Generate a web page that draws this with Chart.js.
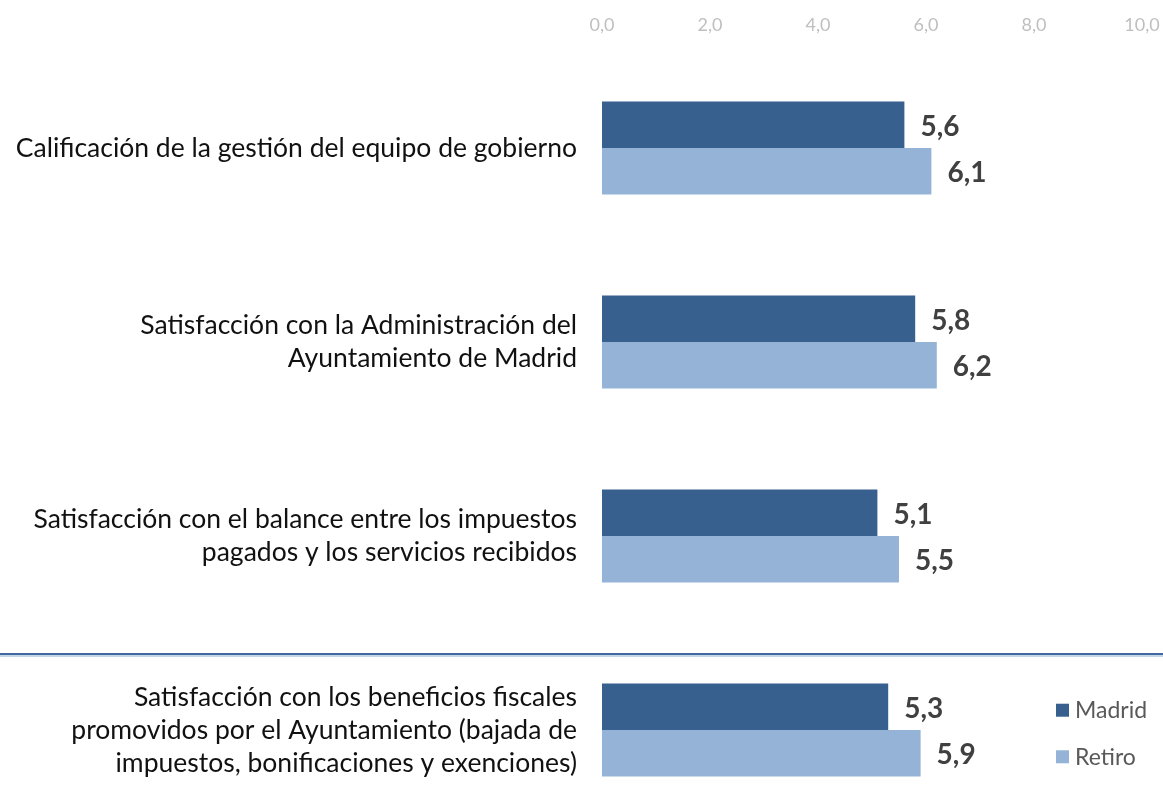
<!DOCTYPE html>
<html>
<head>
<meta charset="utf-8">
<script src="https://cdn.jsdelivr.net/npm/chart.js@4.4.0/dist/chart.umd.min.js"></script>
<style>
  html, body { margin: 0; padding: 0; background: #fff; overflow: hidden; }
  #wrap { width: 1163px; height: 830px; position: relative; }
</style>
</head>
<body>
<div id="wrap"><canvas id="grafica"></canvas></div>
<script>
// datos de la grafica
const categorias = [
    ["Calificación de la gestión del equipo de gobierno"],
    ["Satisfacción con la Administración del", "Ayuntamiento de Madrid"],
    ["Satisfacción con el balance entre los impuestos", "pagados y los servicios recibidos"],
    ["Satisfacción con los beneficios fiscales", "promovidos por el Ayuntamiento (bajada de", "impuestos, bonificaciones y exenciones)"]
];
const madrid = [5.6, 5.8, 5.1, 5.3];
const retiro = [6.1, 6.2, 5.5, 5.9];
const series = ["Madrid", "Retiro"];
const ticksX = [0, 2, 4, 6, 8, 10];

const colores = ["#37608f", "#95b3d7"];

function coma(v) {
    return Number(v).toFixed(1).replace(".", ",");
}

// etiquetas de valor al final de cada barra
const etiquetasValor = {
    id: "etiquetasValor",
    afterDatasetsDraw(chart) {
        const ctx = chart.ctx;
        ctx.save();
        ctx.font = "bold 28px Lato";
        ctx.fillStyle = "#404040";
        ctx.textAlign = "left";
        ctx.textBaseline = "middle";
        chart.data.datasets.forEach((ds, i) => {
            chart.getDatasetMeta(i).data.forEach((bar, j) => {
                ctx.fillText(coma(ds.data[j]), bar.x + 16, bar.y + 2);
            });
        });
        ctx.restore();
    }
};

// linea separadora y leyenda a la derecha
const extras = {
    id: "extras",
    afterDraw(chart) {
        const ctx = chart.ctx;
        const y = chart.scales.y;
        const sep = Math.round(y.getPixelForValue(2.5) + 21);
        ctx.save();
        ctx.fillStyle = "#c5d5ea";
        ctx.fillRect(0, sep + 1, chart.width, 2);
        ctx.fillStyle = "#41679d";
        ctx.fillRect(0, sep - 1, chart.width, 2);

        ctx.font = "23px Lato";
        ctx.textBaseline = "middle";
        ctx.textAlign = "left";
        const n = categorias.length - 1;
        chart.data.datasets.forEach((ds, i) => {
            const bar = chart.getDatasetMeta(i).data[n];
            const ly = bar.y + 3;
            ctx.fillStyle = ds.backgroundColor;
            ctx.fillRect(1056, ly - 6, 13, 13);
            ctx.fillStyle = "#595959";
            ctx.fillText(ds.label, 1075, ly + 1);
        });
        ctx.restore();
    }
};

const ctx = document.getElementById("grafica").getContext("2d");

new Chart(ctx, {
    type: "bar",
    data: {
        labels: categorias,
        datasets: [{
            label: series[0],
            data: madrid,
            backgroundColor: colores[0],
            categoryPercentage: 0.48,
            barPercentage: 1.0
        }, {
            label: series[1],
            data: retiro,
            backgroundColor: colores[1],
            categoryPercentage: 0.48,
            barPercentage: 1.0
        }]
    },
    options: {
        indexAxis: "y",
        responsive: true,
        maintainAspectRatio: false,
        animation: false,
        layout: {
            padding: { left: 0, right: 21, top: 0, bottom: 3 }
        },
        scales: {
            x: {
                position: "top",
                min: 0,
                max: 10,
                afterBuildTicks: (axis) => {
                    axis.ticks = ticksX.map(v => ({ value: v }));
                },
                afterFit: (axis) => {
                    axis.height = 51;
                    axis.paddingLeft = 0;
                    axis.paddingRight = 0;
                },
                grid: { display: false, drawTicks: false },
                border: { display: false },
                ticks: {
                    padding: 15,
                    color: "#bfbfbf",
                    font: { family: "Lato", size: 18 },
                    callback: (v) => coma(v)
                }
            },
            y: {
                afterFit: (axis) => {
                    axis.width = 602;
                    axis.paddingTop = 0;
                    axis.paddingBottom = 0;
                },
                grid: { display: false, drawTicks: false },
                border: { display: false },
                ticks: {
                    padding: 25,
                    color: "#111111",
                    font: { family: "Lato", size: 26.5, lineHeight: 1.245 }
                }
            }
        },
        plugins: {
            legend: { display: false },
            tooltip: { enabled: false }
        }
    },
    plugins: [etiquetasValor, extras]
});
</script>
</body>
</html>
